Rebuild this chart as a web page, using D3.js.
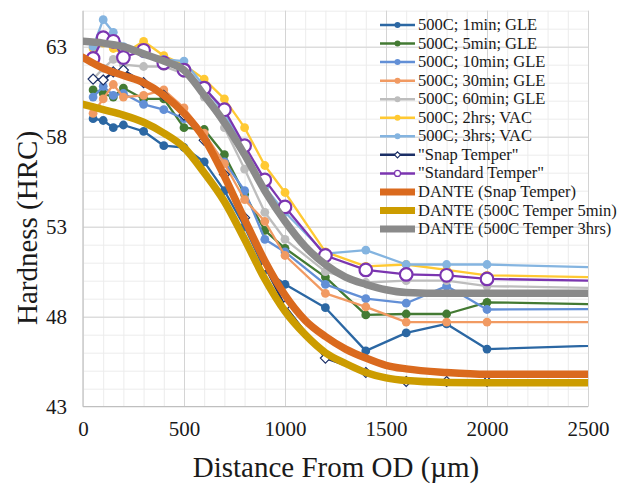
<!DOCTYPE html>
<html>
<head>
<meta charset="utf-8">
<script src="https://cdn.jsdelivr.net/npm/d3@7"></script>
<style>
  html, body { margin: 0; padding: 0; background: #fff; }
  svg { display: block; }
  text { font-family: "Liberation Serif", "Times New Roman", serif; fill: #1a1a1a; }
</style>
</head>
<body>
<svg id="chart" width="623" height="486"></svg>
<script>
// Measured hardness profiles (distance from OD in µm)
const measuredX = [50, 100, 150, 200, 300, 400, 500, 600, 700, 800, 900, 1000, 1200, 1400, 1600, 1800, 2000, 3000];
const gle1min  = [59.0, 58.9, 58.5, 58.65, 58.3, 57.5, 57.4, 56.6, 55.0, 53.0, 50.6, 49.8, 48.5, 46.1, 47.1, 47.6, 46.2, 46.55];
const gle5min  = [60.6, 60.4, 60.2, 60.7, 60.1, 60.1, 58.5, 58.4, 57.0, 54.8, 52.8, 51.8, 50.2, 48.1, 48.15, 48.15, 48.8, 48.6];
const gle10min = [60.2, 60.8, 60.3, 60.4, 59.8, 59.5, 59.0, 58.0, 56.6, 55.0, 52.3, 51.6, 49.8, 49.0, 48.75, 49.7, 48.4, 48.45];
const gle30min = [59.3, 60.1, 60.9, 60.2, 60.3, 60.6, 59.6, 58.2, 56.5, 54.5, 53.3, 51.4, 49.3, 48.55, 47.7, 47.7, 47.7, 47.7];
const gle60min = [61.2, 61.8, 62.3, 62.0, 61.9, 61.9, 61.5, 60.2, 58.5, 56.2, 53.8, 52.3, 50.5, 49.9, 50.0, 50.0, 49.7, 49.5];
const vac2hrs  = [62.9, 63.2, 62.9, 62.6, 63.3, 62.5, 62.0, 61.2, 60.1, 58.5, 56.4, 54.9, 51.6, 50.8, 50.9, 50.6, 50.3, 50.1];
const vac3hrs  = [63.0, 64.5, 63.8, 63.0, 62.6, 62.3, 62.2, 60.8, 59.3, 57.3, 55.2, 53.8, 51.5, 51.7, 50.9, 50.9, 50.9, 50.6];
const snapTemper     = [61.2, 61.15, 61.6, 61.7, 61.0, 60.3, 59.2, 57.8, 55.9, 53.5, 50.8, 48.6, 45.7, 44.9, 44.4, 44.4, 44.4, 44.4];
const standardTemper = [62.35, 63.5, 63.3, 62.4, 62.8, 62.1, 61.7, 60.7, 59.5, 57.5, 55.6, 54.1, 51.4, 50.6, 50.35, 50.3, 50.1, 49.9];

// DANTE simulated profiles
const modelX = [0, 100, 200, 300, 400, 500, 600, 700, 800, 900, 1000, 1100, 1200, 1300, 1400, 1500, 1600, 1800, 2000, 2500];
const danteSnap  = [62.4, 61.8, 61.4, 61.0, 60.3, 59.3, 57.9, 55.8, 53.4, 51.1, 49.2, 47.8, 46.9, 46.2, 45.7, 45.3, 45.1, 44.9, 44.8, 44.8];
const dante5min  = [59.8, 59.5, 59.2, 58.8, 58.2, 57.4, 56.0, 54.4, 52.3, 50.1, 48.3, 47.0, 46.0, 45.4, 44.9, 44.6, 44.45, 44.35, 44.33, 44.33];
const dante3hrs  = [63.3, 63.2, 63.0, 62.6, 62.2, 61.7, 60.3, 58.8, 57.0, 55.0, 53.3, 51.9, 50.9, 50.2, 49.8, 49.5, 49.35, 49.3, 49.3, 49.3];

const seriesNames = [
  "500C; 1min; GLE", "500C; 5min; GLE", "500C; 10min; GLE", "500C; 30min; GLE",
  "500C; 60min; GLE", "500C; 2hrs; VAC", "500C; 3hrs; VAC",
  "\"Snap Temper\"", "\"Standard Temper\"",
  "DANTE (Snap Temper)", "DANTE (500C Temper 5min)", "DANTE (500C Temper 3hrs)"
];
const yTicks = [43, 48, 53, 58, 63];
const xTicks = [0, 500, 1000, 1500, 2000, 2500];

const series = [
  { name: seriesNames[0],  x: measuredX, y: gle1min,  color: "#2B67A3", kind: "dot" },
  { name: seriesNames[1],  x: measuredX, y: gle5min,  color: "#437A33", kind: "dot" },
  { name: seriesNames[2],  x: measuredX, y: gle10min, color: "#628FD6", kind: "dot" },
  { name: seriesNames[3],  x: measuredX, y: gle30min, color: "#F19A62", kind: "dot" },
  { name: seriesNames[4],  x: measuredX, y: gle60min, color: "#BDBDBD", kind: "dot" },
  { name: seriesNames[5],  x: measuredX, y: vac2hrs,  color: "#FFC933", kind: "dot" },
  { name: seriesNames[6],  x: measuredX, y: vac3hrs,  color: "#84B4E0", kind: "dot" },
  { name: seriesNames[7],  x: measuredX, y: snapTemper,     color: "#1B2F66", kind: "diamond" },
  { name: seriesNames[8],  x: measuredX, y: standardTemper, color: "#7B35B0", kind: "ring" },
  { name: seriesNames[9],  x: modelX, y: danteSnap, color: "#DA6A1E", kind: "thick" },
  { name: seriesNames[10], x: modelX, y: dante5min, color: "#CC9C00", kind: "thick" },
  { name: seriesNames[11], x: modelX, y: dante3hrs, color: "#8A8A8A", kind: "thick" }
];

const svg = d3.select("#chart");
const plot = { left: 83, right: 588, top: 10.7, bottom: 406.7 };

const x = d3.scaleLinear().domain([0, 2500]).range([plot.left, plot.right]);
const y = d3.scaleLinear().domain([43, 65]).range([plot.bottom, plot.top]);
const plain = d3.format("d");

// gridlines: minor then major
const grid = svg.append("g");
grid.append("g")
  .attr("transform", `translate(0,${plot.bottom})`)
  .call(d3.axisBottom(x).tickValues(d3.range(0, 2501, 100)).tickSize(-(plot.bottom - plot.top)).tickFormat(""))
  .call(g => g.select(".domain").remove())
  .call(g => g.selectAll("line").attr("stroke", "#ececec").attr("stroke-width", 1));
grid.append("g")
  .attr("transform", `translate(${plot.left},0)`)
  .call(d3.axisLeft(y).tickValues(d3.range(44, 65.5, 1)).tickSize(-(plot.right - plot.left)).tickFormat(""))
  .call(g => g.select(".domain").remove())
  .call(g => g.selectAll("line").attr("stroke", "#ececec").attr("stroke-width", 1));
grid.append("g")
  .attr("transform", `translate(0,${plot.bottom})`)
  .call(d3.axisBottom(x).tickValues(xTicks.slice(1)).tickSize(-(plot.bottom - plot.top)).tickFormat(""))
  .call(g => g.select(".domain").remove())
  .call(g => g.selectAll("line").attr("stroke", "#d4d4d4").attr("stroke-width", 1));
grid.append("g")
  .attr("transform", `translate(${plot.left},0)`)
  .call(d3.axisLeft(y).tickValues(yTicks.slice(1)).tickSize(-(plot.right - plot.left)).tickFormat(""))
  .call(g => g.select(".domain").remove())
  .call(g => g.selectAll("line").attr("stroke", "#d4d4d4").attr("stroke-width", 1));

// axis lines
svg.append("line").attr("x1", plot.left).attr("x2", plot.left).attr("y1", plot.top).attr("y2", plot.bottom)
  .attr("stroke", "#bfbfbf").attr("stroke-width", 1.2);
svg.append("line").attr("x1", plot.left).attr("x2", plot.right).attr("y1", plot.bottom).attr("y2", plot.bottom)
  .attr("stroke", "#bfbfbf").attr("stroke-width", 1.2);

// tick labels
svg.append("g")
  .attr("transform", `translate(${plot.left},0)`)
  .call(d3.axisLeft(y).tickValues(yTicks).tickFormat(plain).tickSize(0).tickPadding(16))
  .call(g => g.select(".domain").remove())
  .call(g => g.selectAll("text").attr("font-size", 21).attr("font-family", "Liberation Serif").attr("fill", "#1a1a1a"));
svg.append("g")
  .attr("transform", `translate(0,${plot.bottom})`)
  .call(d3.axisBottom(x).tickValues(xTicks).tickFormat(plain).tickSize(0).tickPadding(14))
  .call(g => g.select(".domain").remove())
  .call(g => g.selectAll("text").attr("font-size", 21).attr("font-family", "Liberation Serif").attr("fill", "#1a1a1a"));

// axis titles
svg.append("text").attr("x", 336).attr("y", 477).attr("text-anchor", "middle")
  .attr("font-size", 29).text("Distance From OD (µm)");
svg.append("text").attr("transform", "translate(37,228) rotate(-90)").attr("text-anchor", "middle")
  .attr("font-size", 29).text("Hardness (HRC)");

// legend (drawn beneath the data)
const legend = svg.append("g");
const legendTop = 25, legendStep = 18.55;
series.forEach((s, i) => {
  const ly = legendTop + i * legendStep;
  const g = legend.append("g");
  g.append("line").attr("x1", 380).attr("x2", 415).attr("y1", ly).attr("y2", ly)
    .attr("stroke", s.color).attr("stroke-width", s.kind === "thick" ? 7 : 2.5);
  drawMarker(g, s, 397.5, ly, true);
  g.append("text").attr("x", 418).attr("y", ly + 5).attr("font-size", 16.5).text(s.name);
});

function drawMarker(g, s, cx, cy, small) {
  if (s.kind === "dot") {
    g.append("circle").attr("cx", cx).attr("cy", cy).attr("r", small ? 3 : 4.4).attr("fill", s.color);
  } else if (s.kind === "ring") {
    g.append("circle").attr("cx", cx).attr("cy", cy).attr("r", small ? 3 : 6.3)
      .attr("fill", "#fff").attr("stroke", s.color).attr("stroke-width", small ? 1.2 : 2.2);
  } else if (s.kind === "diamond") {
    const r = small ? 3 : 5;
    g.append("path").attr("d", `M${cx},${cy - r}L${cx + r},${cy}L${cx},${cy + r}L${cx - r},${cy}Z`)
      .attr("fill", "#fff").attr("stroke", s.color).attr("stroke-width", 1.2);
  }
}

// data
svg.append("clipPath").attr("id", "plotClip").append("rect")
  .attr("x", plot.left).attr("y", 0).attr("width", plot.right - plot.left).attr("height", plot.bottom);

const data = svg.append("g").attr("clip-path", "url(#plotClip)");
series.forEach(s => {
  const pts = s.x.map((d, i) => [d, s.y[i]]);
  const line = d3.line().x(d => x(d[0])).y(d => y(d[1]))
    .curve(s.kind === "thick" ? d3.curveMonotoneX : d3.curveLinear);
  data.append("path").datum(pts).attr("d", line).attr("fill", "none")
    .attr("stroke", s.color).attr("stroke-width", s.kind === "thick" ? 7.5 : 2.3)
    .attr("stroke-linejoin", "round").attr("stroke-linecap", "round");
  if (s.kind !== "thick") {
    const mg = data.append("g");
    pts.forEach(p => drawMarker(mg, s, x(p[0]), y(p[1]), false));
  }
});
</script>
</body>
</html>
